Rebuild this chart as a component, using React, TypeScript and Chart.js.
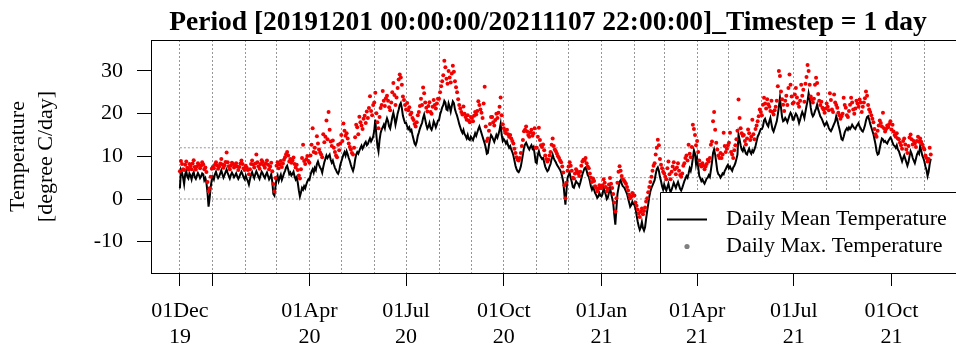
import React, { useEffect, useRef } from 'react';
import { Chart, registerables } from 'chart.js';

Chart.register(...registerables);

const startDate = '2019-12-01';
const endDate = '2021-11-07';
const titleText = 'Period [20191201 00:00:00/20211107 22:00:00]_Timestep = 1 day';
const yLabelLines = ['Temperature', '[degree C/day]'];
const legendLabels = ['Daily Mean Temperature', 'Daily Max. Temperature'];
const yTickValues = [-10, 0, 10, 20, 30];
const xTickDates = [
  '2019-12-01', '2020-01-01', '2020-04-01', '2020-07-01', '2020-10-01',
  '2021-01-01', '2021-04-01', '2021-07-01', '2021-10-01',
];
const xTickLabels: (string | string[])[] = [
  ['01Dec', '19'], '', ['01Apr', '20'], ['01Jul', '20'], ['01Oct', '20'],
  ['01Jan', '21'], ['01Apr', '21'], ['01Jul', '21'], ['01Oct', '21'],
];
const refLevels = [0, 5, 12];

// daily mean temperature, one row per month
const meanTemp = [
  // Dec 2019
  2.5, 6.8, 6.2, 5.0, 3.5, 5.8, 6.5, 5.2, 4.8, 6.0, 5.5, 4.6, 5.8, 6.3, 5.1, 4.7, 5.4, 6.1, 5.6, 4.9, 5.3, 6.0, 5.8, 4.4, 4.9, 3.8, 1.5, -1.8, 0.2, 2.8, 4.5,
  // Jan 2020
  5.2, 4.6, 5.8, 6.4, 5.5, 4.9, 5.3, 6.0, 6.7, 5.8, 5.0, 5.6, 6.3, 6.9, 6.1, 5.4, 4.8, 5.6, 6.2, 5.7, 5.1, 5.5, 6.0, 5.3, 4.7, 5.2, 5.9, 6.4, 5.8, 5.0, 4.6,
  // Feb 2020
  5.5, 4.8, 4.2, 3.4, 4.6, 5.7, 6.3, 5.5, 4.9, 5.8, 6.5, 5.9, 5.2, 4.7, 5.6, 6.4, 6.0, 5.3, 4.9, 5.7, 6.2, 5.4, 4.6, 5.1, 5.8, 4.0, 1.2, 0.8, 2.9,
  // Mar 2020
  4.8, 5.5, 4.2, 5.0, 5.7, 4.5, 5.2, 6.0, 6.6, 7.4, 7.8, 6.9, 5.8, 6.2, 5.5, 5.9, 6.4, 5.3, 4.6, 5.1, 3.8, 2.0, 0.6, 1.5, 2.6, 2.2, 3.0, 2.5, 3.4, 4.1, 4.6,
  // Apr 2020
  4.5, 5.6, 6.5, 7.0, 6.2, 7.3, 6.8, 8.2, 8.8, 8.0, 7.4, 7.0, 6.2, 7.5, 8.6, 9.4, 10.2, 9.6, 10.0, 10.4, 9.2, 8.5, 9.0, 8.1, 7.3, 6.8, 6.2, 5.9, 6.6, 8.0,
  // May 2020
  8.8, 9.6, 10.4, 11.0, 10.2, 11.2, 10.5, 9.6, 8.9, 8.0, 7.2, 6.6, 7.5, 9.2, 10.4, 11.0, 10.6, 11.3, 12.0, 12.5, 11.8, 12.3, 13.0, 13.4, 12.6, 12.9, 13.6, 14.2, 13.5, 14.0, 14.6,
  // Jun 2020
  16.0, 18.6, 15.0, 12.5, 11.2, 13.8, 15.5, 16.3, 16.8, 17.4, 16.6, 18.0, 18.9, 18.2, 17.0, 16.5, 17.8, 19.2, 20.2, 19.0, 17.4, 18.6, 20.0, 20.9, 22.0, 22.5, 21.3, 19.5, 18.6, 17.8,
  // Jul 2020
  17.8, 17.0, 16.4, 16.8, 15.9, 16.2, 15.0, 14.0, 13.0, 12.6, 13.4, 14.8, 15.6, 16.5, 17.2, 17.8, 19.0, 19.8, 18.6, 17.4, 16.5, 17.0, 17.8, 16.6, 16.2, 17.0, 18.2, 17.6, 16.8, 17.5, 18.4,
  // Aug 2020
  18.5, 19.8, 20.6, 21.5, 22.0, 23.0, 22.6, 21.0, 20.8, 22.4, 21.6, 20.5, 21.8, 22.9, 22.5, 21.0, 20.2, 19.5, 18.6, 17.6, 16.8, 16.0, 15.5, 16.2, 15.2, 14.8, 14.2, 15.0, 14.0, 13.8, 14.6,
  // Sep 2020
  14.2, 13.8, 14.6, 15.4, 14.8, 15.6, 16.4, 17.0, 16.2, 15.4, 14.6, 13.8, 13.0, 12.0, 10.6, 10.8, 12.6, 14.0, 15.0, 14.6, 14.0, 13.4, 14.2, 15.0, 14.4, 15.2, 16.2, 17.6, 15.0, 13.6,
  // Oct 2020
  14.0, 13.6, 13.0, 13.5, 12.6, 12.0, 12.4, 11.6, 11.0, 10.2, 9.0, 7.8, 7.0, 6.5, 6.3, 6.8, 7.6, 9.0, 10.5, 12.0, 12.8, 13.2, 12.6, 12.0, 11.6, 12.2, 12.6, 11.8, 12.2, 10.6, 8.6,
  // Nov 2020
  8.4, 10.4, 11.2, 10.2, 9.8, 9.4, 9.6, 8.6, 7.6, 7.0, 6.5, 6.8, 7.6, 8.2, 9.4, 10.4, 9.6, 9.0, 8.6, 8.0, 7.6, 7.2, 6.8, 6.2, 5.2, 4.0, 1.2, -1.3, 2.0, 5.0,
  // Dec 2020
  5.6, 6.2, 5.0, 4.0, 2.8, 2.6, 3.4, 4.2, 3.8, 3.6, 3.0, 3.8, 4.8, 5.8, 6.5, 7.2, 7.4, 6.6, 5.6, 5.2, 4.2, 3.0, 2.2, 2.8, 2.2, 1.4, 0.9, 0.3, 0.6, 1.4, 0.8,
  // Jan 2021
  0.6, 1.2, 2.6, 1.8, 1.0, 0.0, 0.4, 1.5, 2.6, 1.4, 0.2, -1.0, -3.6, -6.0, -2.2, 1.2, 2.6, 4.0, 4.4, 3.6, 3.0, 2.8, 2.4, 1.8, 1.2, 0.2, -0.8, -1.8, -1.4, -0.6, -1.2,
  // Feb 2021
  -1.4, -2.2, -3.8, -5.2, -6.4, -7.2, -6.6, -5.4, -6.8, -7.4, -6.6, -4.6, -2.8, -1.2, 0.6, 1.8, 2.6, 3.2, 3.8, 4.4, 5.8, 7.0, 7.4, 6.6, 5.2, 4.2, 3.0, 2.2,
  // Mar 2021
  3.4, 2.6, 2.0, 2.8, 3.6, 2.4, 1.6, 2.2, 3.0, 3.8, 3.2, 2.6, 3.4, 4.0, 3.2, 2.4, 2.0, 2.6, 3.4, 4.2, 4.8, 5.4, 5.0, 6.0, 7.2, 6.6, 7.8, 9.6, 11.4, 10.6, 8.2,
  // Apr 2021
  9.6, 7.6, 5.4, 4.9, 4.2, 4.6, 4.0, 3.6, 4.2, 4.8, 5.0, 5.6, 5.2, 6.8, 8.6, 10.8, 11.6, 10.4, 8.6, 6.6, 5.8, 5.6, 5.0, 5.4, 6.0, 5.8, 6.6, 7.0, 7.6, 8.0,
  // May 2021
  7.2, 7.6, 7.0, 6.6, 7.4, 7.8, 8.4, 9.4, 10.4, 15.1, 13.9, 12.6, 11.6, 11.2, 12.0, 11.4, 10.6, 10.4, 11.2, 11.8, 11.0, 10.6, 11.4, 11.0, 11.6, 12.4, 13.5, 14.6, 15.1, 15.8, 16.4,
  // Jun 2021
  16.4, 17.0, 18.4, 18.8, 18.0, 17.4, 17.0, 18.2, 19.0, 17.6, 16.3, 15.8, 16.6, 17.4, 18.2, 19.8, 21.6, 23.7, 21.4, 19.2, 18.2, 18.4, 19.0, 18.6, 18.0, 18.8, 19.6, 20.2, 19.8, 18.6,
  // Jul 2021
  18.6, 19.4, 20.0, 19.6, 18.8, 17.8, 18.6, 19.6, 20.4, 19.8, 19.0, 20.4, 21.8, 23.0, 24.8, 23.6, 21.4, 20.0, 19.4, 19.8, 20.6, 21.2, 22.1, 21.0, 20.2, 19.4, 19.0, 18.4, 17.8, 17.2, 17.6,
  // Aug 2021
  18.0, 17.4, 16.6, 16.2, 15.9, 16.4, 17.0, 17.6, 18.2, 19.4, 18.6, 17.4, 16.4, 15.2, 14.0, 13.8, 14.6, 15.6, 16.2, 16.6, 16.2, 16.8, 16.4, 16.8, 17.4, 17.0, 16.6, 16.4, 17.0, 17.4, 17.8,
  // Sep 2021
  17.0, 16.6, 16.0, 15.8, 16.4, 17.2, 18.4, 19.2, 19.4, 18.6, 17.6, 16.8, 16.0, 15.2, 14.0, 12.8, 11.2, 10.4, 10.6, 12.0, 13.2, 14.2, 14.0, 13.4, 13.6, 13.2, 13.0, 13.6, 14.0, 14.4,
  // Oct 2021
  14.0, 13.2, 12.6, 12.4, 12.0, 12.6, 11.6, 11.2, 10.4, 9.6, 8.8, 9.6, 10.2, 9.4, 8.6, 7.8, 8.6, 10.0, 11.2, 10.6, 9.6, 9.0, 8.4, 9.4, 10.4, 11.0, 10.6, 12.4, 11.4, 10.2, 9.6,
  // Nov 2021
  8.8, 7.6, 6.8, 5.4, 6.4, 8.2, 9.4,
];

// daily maximum temperature, one row per month
const maxTemp = [
  // Dec 2019
  6.5, 8.9, 8.2, 7.0, 6.8, 8.0, 8.8, 7.3, 6.9, 8.2, 7.7, 7.0, 8.3, 9.1, 7.5, 6.9, 7.6, 8.4, 8.0, 7.2, 7.8, 8.6, 8.1, 7.0, 7.4, 6.3, 4.0, 1.8, 2.5, 5.2, 7.1,
  // Jan 2020
  7.5, 7.2, 8.0, 8.6, 7.9, 7.1, 7.6, 8.3, 9.4, 8.1, 7.3, 7.9, 8.7, 10.9, 8.6, 7.7, 7.0, 7.8, 8.5, 8.2, 7.4, 7.8, 8.4, 7.6, 6.8, 7.5, 8.3, 9.0, 8.2, 7.2, 6.8,
  // Feb 2020
  7.8, 7.3, 6.8, 5.8, 7.0, 8.2, 9.0, 8.1, 7.4, 8.3, 10.4, 8.6, 7.7, 7.1, 8.2, 9.1, 8.7, 7.9, 7.3, 8.3, 9.0, 8.0, 7.0, 7.6, 8.5, 6.5, 3.5, 1.8, 4.9,
  // Mar 2020
  7.8, 8.6, 7.2, 8.1, 8.9, 7.5, 8.3, 9.2, 9.8, 10.5, 11.0, 10.2, 8.8, 9.4, 8.5, 9.0, 9.7, 8.2, 7.4, 8.0, 6.8, 5.5, 4.8, 7.0, 9.6, 12.7, 8.9, 8.2, 9.3, 10.1, 8.9,
  // Apr 2020
  8.5, 10.2, 12.7, 16.6, 11.0, 12.0, 10.8, 14.7, 13.0, 11.6, 10.9, 10.4, 9.8, 15.2, 13.3, 14.6, 18.4, 14.0, 20.4, 16.2, 13.5, 12.4, 13.7, 12.0, 11.0, 10.2, 9.8, 12.7, 11.4, 13.0,
  // May 2020
  15.0, 13.6, 17.7, 16.0, 14.8, 15.4, 14.2, 13.0, 12.2, 11.6, 10.8, 10.4, 12.0, 14.5, 17.4, 16.8, 15.2, 19.3, 18.0, 17.2, 16.4, 18.8, 19.5, 17.8, 20.5, 19.0, 21.3, 24.1, 20.6, 19.6, 22.0,
  // Jun 2020
  22.6, 24.9, 20.1, 18.0, 16.6, 19.2, 21.3, 22.0, 25.3, 23.0, 21.8, 23.6, 24.2, 23.0, 21.5, 20.8, 22.6, 25.0, 27.2, 24.4, 22.0, 23.8, 26.0, 28.0, 29.2, 28.5, 26.8, 24.0, 23.2, 22.0,
  // Jul 2020
  21.0, 22.5, 20.8, 21.5, 19.8, 20.2, 19.0, 18.5, 17.6, 17.0, 18.0, 19.6, 20.4, 21.8, 23.5, 22.0, 26.1, 24.8, 22.6, 21.4, 20.5, 21.8, 22.7, 20.4, 20.0, 21.6, 23.2, 22.0, 21.2, 22.4, 23.5,
  // Aug 2020
  23.5, 25.0, 26.4, 27.6, 29.0, 32.4, 30.9, 28.2, 27.0, 30.0, 28.5, 27.3, 29.4, 31.2, 29.8, 27.6, 26.2, 25.0, 23.4, 22.0, 21.2, 20.4, 19.8, 21.7, 20.0, 19.2, 18.6, 19.6, 18.4, 18.0, 19.2,
  // Sep 2020
  19.0, 18.2, 19.5, 20.4, 19.8, 20.6, 22.9, 22.0, 21.0, 20.2, 19.0, 22.4, 26.3, 17.0, 13.6, 14.2, 16.0, 17.6, 19.2, 19.2, 18.0, 17.2, 18.5, 20.0, 19.0, 20.2, 21.6, 23.8, 19.6, 17.5,
  // Oct 2020
  16.6, 16.0, 15.4, 16.2, 15.2, 14.6, 15.0, 14.2, 13.6, 13.0, 11.8, 10.8, 9.8, 9.2, 9.0, 9.6, 10.8, 12.4, 13.8, 15.9, 16.2, 17.0, 15.8, 15.0, 14.6, 15.6, 16.2, 14.8, 15.4, 16.6, 12.0,
  // Nov 2020
  12.0, 14.6, 16.7, 13.8, 12.6, 12.2, 12.8, 11.4, 10.2, 9.4, 8.8, 9.2, 10.2, 11.0, 12.7, 14.2, 12.4, 11.6, 11.2, 10.6, 10.0, 9.6, 9.0, 8.6, 7.6, 6.2, 3.2, 0.2, 3.8, 6.6,
  // Dec 2020
  7.6, 8.6, 7.8, 6.6, 5.0, 4.8, 6.0, 7.0, 6.5, 6.0, 5.4, 6.4, 7.8, 8.8, 9.2, 9.0, 9.6, 8.4, 7.6, 7.2, 6.0, 5.0, 4.0, 4.8, 4.2, 3.0, 2.6, 1.8, 2.4, 3.2, 2.6,
  // Jan 2021
  2.6, 3.2, 4.6, 3.8, 2.8, 1.8, 2.4, 3.4, 4.9, 3.6, 2.6, 1.2, -0.8, -2.9, 0.2, 3.8, 6.4, 7.7, 6.6, 5.4, 4.6, 4.4, 4.0, 3.6, 2.8, 2.0, 1.0, 0.2, 0.6, 1.4, 0.8,
  // Feb 2021
  0.8, -0.8, -1.6, -2.5, -3.4, -4.2, -3.0, -2.2, -3.6, -2.8, -2.0, -0.6, 0.2, 1.6, 2.8, 4.0, 5.2, 6.6, 7.8, 8.4, 10.4, 12.0, 13.9, 12.6, 9.4, 8.0, 7.2, 6.4,
  // Mar 2021
  6.0, 5.2, 4.6, 7.2, 8.8, 5.8, 4.6, 6.4, 7.6, 8.6, 7.0, 5.8, 7.4, 8.4, 6.6, 5.6, 5.2, 6.0, 7.8, 8.4, 9.6, 10.2, 9.0, 12.7, 10.6, 9.8, 12.2, 17.4, 16.4, 15.0, 12.6,
  // Apr 2021
  13.6, 11.0, 9.0, 8.0, 7.6, 8.4, 7.8, 7.0, 7.6, 8.2, 9.2, 8.8, 9.6, 12.7, 13.5, 18.2, 20.4, 16.2, 13.2, 11.6, 10.2, 9.6, 10.8, 9.6, 10.4, 15.5, 12.4, 11.0, 11.8, 12.6,
  // May 2021
  13.2, 15.5, 11.0, 10.4, 9.6, 11.4, 12.6, 14.0, 16.0, 23.3, 19.0, 16.6, 15.4, 14.8, 15.0, 13.6, 12.8, 14.2, 16.3, 15.4, 13.8, 14.6, 18.6, 15.2, 14.0, 16.4, 17.2, 18.2, 19.4, 21.0, 20.4,
  // Jun 2021
  19.6, 22.1, 23.7, 22.4, 21.2, 23.4, 22.2, 21.6, 20.6, 23.0, 20.4, 19.8, 20.8, 21.6, 23.0, 26.4, 30.0, 28.8, 25.2, 23.4, 22.1, 20.6, 23.0, 24.2, 22.0, 26.0, 29.2, 26.8, 24.0, 22.4,
  // Jul 2021
  22.6, 24.5, 26.0, 23.8, 22.4, 21.6, 23.0, 26.8, 24.2, 25.6, 22.8, 27.0, 28.6, 31.4, 30.0, 26.8, 24.0, 23.4, 22.6, 23.5, 26.8, 28.4, 27.2, 24.6, 23.0, 22.0, 22.8, 21.4, 21.0, 20.2, 21.2,
  // Aug 2021
  22.4, 21.6, 20.8, 24.8, 23.2, 21.0, 20.4, 24.5, 22.6, 22.0, 21.4, 20.2, 19.6, 18.8, 19.4, 20.0, 23.7, 22.0, 21.4, 19.6, 19.2, 20.6, 22.1, 23.7, 22.6, 21.0, 20.0, 21.2, 23.0, 22.4, 21.6,
  // Sep 2021
  23.3, 22.6, 20.4, 21.6, 22.6, 23.6, 25.2, 24.2, 22.0, 21.0, 20.4, 19.6, 18.8, 18.0, 16.4, 15.2, 14.6, 16.0, 17.2, 18.4, 17.8, 17.0, 20.2, 16.6, 15.8, 16.4, 17.2, 16.8, 17.6, 18.2,
  // Oct 2021
  16.3, 17.4, 15.8, 15.0, 14.6, 15.4, 14.2, 14.0, 13.2, 12.6, 11.8, 13.6, 14.2, 12.8, 11.6, 10.8, 12.4, 14.4, 15.1, 14.0, 12.8, 13.6, 13.0, 12.2, 13.6, 14.6, 13.4, 14.2, 13.4, 12.8, 12.0,
  // Nov 2021
  11.6, 10.2, 9.6, 8.8, 9.4, 12.0, 10.4,
];

const DAY_MS = 86400000;
const dayIndex = (d: string) =>
  Math.round((Date.parse(d + 'T00:00:00Z') - Date.parse(startDate + 'T00:00:00Z')) / DAY_MS);

// first day of every month in the period, for the vertical dotted grid
function monthStarts(): number[] {
  const out: number[] = [];
  const last = dayIndex(endDate);
  const s = new Date(startDate + 'T00:00:00Z');
  let y = s.getUTCFullYear();
  let m = s.getUTCMonth();
  for (;;) {
    const idx = Math.round((Date.UTC(y, m, 1) - Date.parse(startDate + 'T00:00:00Z')) / DAY_MS);
    if (idx > last) break;
    out.push(idx);
    m += 1;
    if (m > 11) { m = 0; y += 1; }
  }
  return out;
}

const SERIF = '"Liberation Serif", "Times New Roman", serif';
const X_MIN = -27.2;
const X_MAX = 727;
const Y_MIN = -17.34;
const Y_MAX = 37.26;
const GRID_GREY = '#969696';
const DOT_RED = '#f20000';

const decorPlugin = {
  id: 'decor',
  afterDatasetsDraw(chart: any) {
    const { ctx, chartArea: a } = chart;
    const W = chart.width;
    ctx.save();

    // legend panel
    const lx = 660.5;
    const ly = 192.5;
    ctx.fillStyle = '#ffffff';
    ctx.fillRect(lx, ly, W - lx + 2, a.bottom - ly);
    ctx.strokeStyle = '#000';
    ctx.lineWidth = 1;
    ctx.beginPath();
    ctx.moveTo(lx, a.bottom);
    ctx.lineTo(lx, ly);
    ctx.lineTo(W + 2, ly);
    ctx.stroke();

    ctx.beginPath();
    ctx.lineWidth = 2;
    ctx.moveTo(667, 219.5);
    ctx.lineTo(707, 219.5);
    ctx.stroke();

    ctx.fillStyle = '#808080';
    ctx.beginPath();
    ctx.arc(687, 246.5, 2.6, 0, Math.PI * 2);
    ctx.fill();

    ctx.fillStyle = '#000';
    ctx.font = `22px ${SERIF}`;
    ctx.textAlign = 'left';
    ctx.textBaseline = 'middle';
    ctx.fillText(legendLabels[0], 726, 219);
    ctx.fillText(legendLabels[1], 726, 246);

    // plot frame
    ctx.lineWidth = 1;
    ctx.strokeStyle = '#000';
    ctx.beginPath();
    ctx.moveTo(W + 2, a.top + 0.5);
    ctx.lineTo(a.left + 0.5, a.top + 0.5);
    ctx.lineTo(a.left + 0.5, a.bottom + 0.5);
    ctx.lineTo(W + 2, a.bottom + 0.5);
    ctx.stroke();

    // main title
    ctx.font = `bold 27.5px ${SERIF}`;
    ctx.textAlign = 'center';
    ctx.textBaseline = 'alphabetic';
    ctx.fillText(titleText, 548, 30);
    ctx.restore();
  },
};

export default function App() {
  const canvasRef = useRef<HTMLCanvasElement | null>(null);

  useEffect(() => {
    document.body.style.margin = '0';
    document.body.style.overflow = 'hidden';
    const canvas = canvasRef.current;
    if (!canvas) return;

    const lastDay = meanTemp.length - 1;
    const gridDays = monthStarts();
    const tickDays = xTickDates.map(dayIndex);

    const chart = new Chart(canvas, {
      type: 'line',
      data: {
        datasets: [
          {
            label: legendLabels[1],
            data: maxTemp.map((v, i) => ({ x: i, y: v })),
            showLine: false,
            pointRadius: 2.0,
            pointBackgroundColor: DOT_RED,
            pointBorderWidth: 0,
            borderColor: DOT_RED,
            order: 1,
          },
          {
            label: legendLabels[0],
            data: meanTemp.map((v, i) => ({ x: i, y: v })),
            borderColor: '#000',
            borderWidth: 2,
            pointRadius: 0,
            tension: 0,
            order: 2,
          },
          ...refLevels.map((lvl) => ({
            label: `ref ${lvl}`,
            data: [{ x: 0, y: lvl }, { x: lastDay, y: lvl }],
            borderColor: GRID_GREY,
            borderWidth: 1,
            borderDash: [2, 2],
            pointRadius: 0,
            order: 3,
          })),
        ],
      },
      options: {
        responsive: false,
        animation: false,
        events: [],
        layout: { padding: { top: 40, left: 0, right: 0, bottom: 0 } },
        plugins: {
          legend: { display: false },
          tooltip: { enabled: false },
          title: { display: false },
        },
        scales: {
          x: {
            type: 'linear',
            position: 'bottom',
            min: X_MIN,
            max: X_MAX,
            afterBuildTicks: (scale: any) => {
              scale.ticks = tickDays.map((d) => ({ value: d }));
            },
            afterFit: (scale: any) => {
              scale.height = 74;
            },
            grid: {
              drawOnChartArea: false,
              drawTicks: true,
              tickLength: 13,
              color: '#000',
              tickColor: '#000',
              lineWidth: 1,
            },
            border: { display: true, color: '#000', width: 1 },
            ticks: {
              autoSkip: false,
              maxRotation: 0,
              minRotation: 0,
              padding: 12,
              color: '#000',
              font: { family: SERIF, size: 22, lineHeight: 26 / 22 },
              callback: (_v: any, i: number) => xTickLabels[i],
            },
          },
          xg: {
            type: 'linear',
            position: 'top',
            min: X_MIN,
            max: X_MAX,
            afterBuildTicks: (scale: any) => {
              scale.ticks = gridDays.map((d) => ({ value: d }));
            },
            afterFit: (scale: any) => {
              scale.height = 0;
            },
            grid: {
              drawOnChartArea: true,
              drawTicks: false,
              color: GRID_GREY,
              lineWidth: 1,
            },
            border: { display: false, dash: [2, 2] },
            ticks: { display: false },
          },
          y: {
            type: 'linear',
            position: 'left',
            min: Y_MIN,
            max: Y_MAX,
            afterBuildTicks: (scale: any) => {
              scale.ticks = yTickValues.map((v) => ({ value: v }));
            },
            afterFit: (scale: any) => {
              scale.width = 151;
            },
            grid: {
              drawOnChartArea: false,
              drawTicks: true,
              tickLength: 14,
              color: '#000',
              tickColor: '#000',
            },
            border: { display: true, color: '#000', width: 1 },
            ticks: {
              padding: 14,
              color: '#000',
              font: { family: SERIF, size: 22 },
              callback: (v: any) => String(v),
            },
            title: {
              display: true,
              text: yLabelLines,
              color: '#000',
              font: { family: SERIF, size: 22, lineHeight: 28 / 22 },
              padding: { top: 4, bottom: 0 },
            },
          },
        },
      } as any,
      plugins: [decorPlugin],
    });

    return () => chart.destroy();
  }, []);

  return (
    <canvas
      ref={canvasRef}
      width={956}
      height={347}
      style={{ display: 'block', width: 956, height: 347 }}
    />
  );
}
